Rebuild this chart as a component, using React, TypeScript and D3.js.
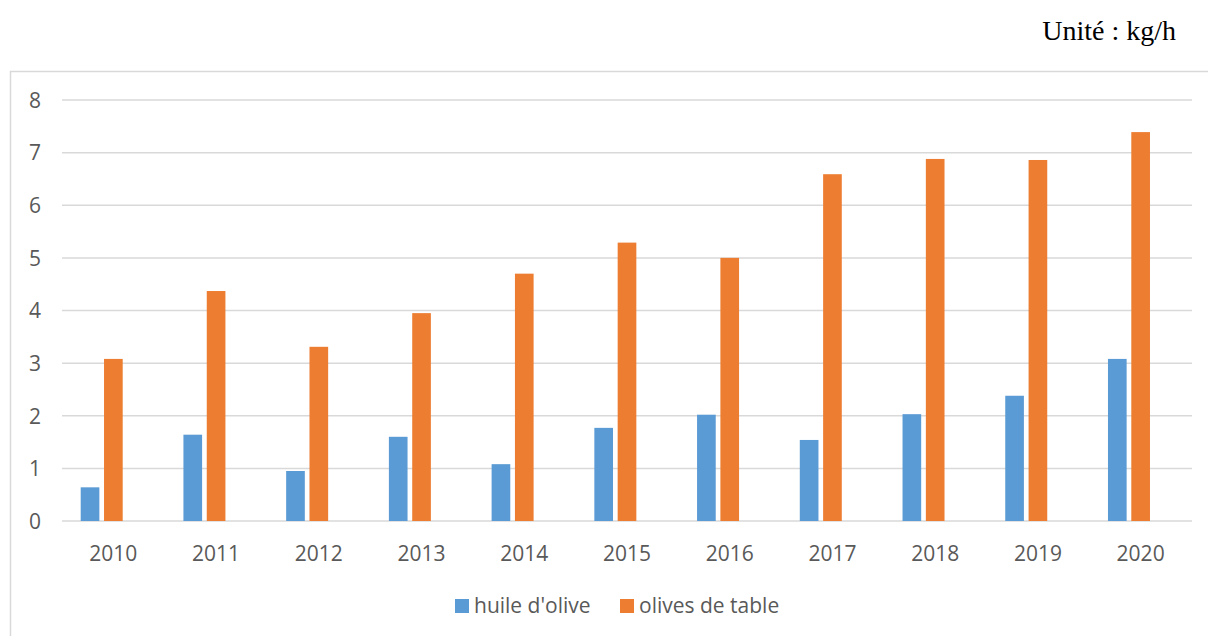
import React from "react";
import * as d3 from "d3";

const years = ["2010","2011","2012","2013","2014","2015","2016","2017","2018","2019","2020"];
const huile = [0.64, 1.64, 0.95, 1.6, 1.08, 1.77, 2.02, 1.54, 2.03, 2.38, 3.08];
const olives = [3.08, 4.37, 3.31, 3.95, 4.7, 5.29, 5.0, 6.59, 6.88, 6.86, 7.39];
const seriesNames = ["huile d'olive", "olives de table"];
const colors = ["#5B9BD5", "#ED7D31"];
const yTicks = [0, 1, 2, 3, 4, 5, 6, 7, 8];

const W = 1208, H = 636;
const left = 62, right = 1192, top = 100, bottom = 521;
const font = "'Open Sans', sans-serif";

export default function App() {
  const x = d3.scaleBand<string>().domain(years).range([left, right]).paddingInner(0).paddingOuter(0);
  // three slots per category (Excel layout with an empty third series)
  const slot = d3.scaleBand<number>().domain([0, 1, 2]).range([18.7, x.bandwidth() - 18.7]).paddingInner(0.2);
  const y = d3.scaleLinear().domain([0, 8]).range([bottom, top]);
  const series = [huile, olives];

  return (
    <svg width={W} height={H} style={{ position: "absolute", left: 0, top: 0 }} fontFamily={font}>
      <rect x={0} y={0} width={W} height={H} fill="#fff" />
      <rect x={10.5} y={71.5} width={W + 10} height={H} fill="none" stroke="#d9d9d9" strokeWidth={1.5} />
      <text x={1176} y={40} textAnchor="end" fontFamily="'Liberation Serif', 'Times New Roman', serif" fontSize={28} fill="#000">
        Unité : kg/h
      </text>
      {yTicks.map((t) => (
        <g key={t}>
          <line x1={left} x2={right} y1={y(t)} y2={y(t)} stroke="#d9d9d9" strokeWidth={1.5} />
          <text x={41} y={y(t) + 7.8} textAnchor="end" fontSize={21} fill="#595959">{t}</text>
        </g>
      ))}
      {series.map((vals, si) =>
        vals.map((v, i) => (
          <rect
            key={`${si}-${i}`}
            x={(x(years[i]) as number) + (slot(si) as number)}
            y={y(v)}
            width={slot.bandwidth()}
            height={y(0) - y(v)}
            fill={colors[si]}
          />
        ))
      )}
      {years.map((yr) => (
        <text key={yr} x={(x(yr) as number) + x.bandwidth() / 2} y={560.5} textAnchor="middle" fontSize={21} fill="#595959">
          {yr}
        </text>
      ))}
      <g>
        <rect x={455} y={599} width={14} height={14} fill={colors[0]} />
        <text x={474} y={613} fontSize={21} fill="#595959">{seriesNames[0]}</text>
        <rect x={620} y={599} width={14} height={14} fill={colors[1]} />
        <text x={639} y={613} fontSize={21} fill="#595959">{seriesNames[1]}</text>
      </g>
    </svg>
  );
}
